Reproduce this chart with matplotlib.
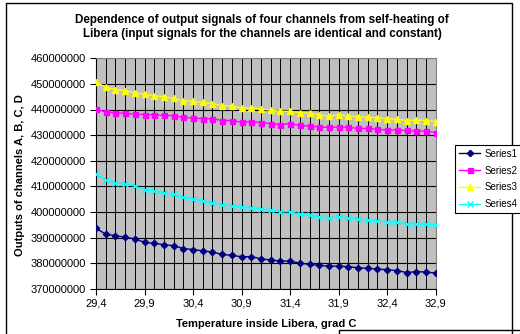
import matplotlib
matplotlib.use("Agg")
import matplotlib.pyplot as plt
import matplotlib.ticker as ticker
import numpy as np

plt.rcParams['font.family'] = ['Liberation Sans', 'DejaVu Sans']

# Temperature categories (grad C)
temps = [29.4, 29.5, 29.6, 29.7, 29.8, 29.9, 30.0, 30.1, 30.2, 30.3, 30.4, 30.5,
         30.6, 30.7, 30.8, 30.9, 31.0, 31.1, 31.2, 31.3, 31.4, 31.5, 31.6, 31.7,
         31.8, 31.9, 32.0, 32.1, 32.2, 32.3, 32.4, 32.5, 32.6, 32.7, 32.8, 32.9]

# Channel outputs, millions
series1 = [393.6, 391.3, 390.7, 390.1, 389.5, 388.1, 387.7, 387.2, 386.8, 385.7, 385.3, 384.8,
           384.3, 383.4, 383.0, 382.5, 382.5, 381.7, 381.2, 380.8, 380.8, 380.0, 379.5, 379.1,
           378.8, 378.8, 378.6, 378.2, 377.9, 377.7, 377.4, 377.1, 376.3, 376.7, 376.5, 376.1]
series2 = [440.1, 439.1, 438.7, 438.5, 438.2, 438.0, 438.0, 437.7, 437.6, 436.9, 436.7, 436.4,
           436.4, 435.7, 435.7, 435.0, 435.3, 434.9, 434.5, 434.1, 434.5, 433.8, 433.5, 433.2,
           433.0, 433.2, 433.0, 432.6, 432.6, 432.3, 432.0, 432.0, 431.8, 431.6, 431.6, 431.0]
series3 = [450.7, 448.7, 447.8, 447.4, 446.5, 445.9, 445.4, 445.0, 444.3, 443.5, 443.2, 442.8,
           442.3, 441.5, 441.4, 440.5, 440.7, 440.2, 439.7, 439.3, 439.3, 438.8, 438.5, 438.0,
           437.3, 438.0, 437.4, 437.2, 437.0, 436.8, 436.4, 436.2, 435.7, 435.9, 435.7, 435.3]
series4 = [414.9, 412.4, 411.4, 410.8, 410.1, 408.6, 408.2, 407.3, 406.8, 405.7, 405.1, 404.3,
           403.6, 402.8, 402.4, 401.8, 401.7, 401.2, 400.7, 400.0, 400.1, 399.0, 398.7, 398.1,
           397.6, 398.2, 397.7, 397.2, 396.8, 396.4, 396.2, 395.9, 395.3, 395.4, 395.1, 395.0]

W, H = 520, 334
fig = plt.figure(figsize=(W / 100, H / 100), dpi=100)

# plot area in pixels
x0, x1, y0, y1 = 96, 435.7, 58.3, 288.7
ax = fig.add_axes([x0 / W, 1 - y1 / H, (x1 - x0) / W, (y1 - y0) / H])
ax.set_facecolor('#C0C0C0')

idx = np.arange(len(temps))
styles = [
    (series1, '#000080', 'D', 3.2, 'Series1'),
    (series2, '#FF00FF', 's', 3.6, 'Series2'),
    (series3, '#FFFF00', '^', 4.2, 'Series3'),
    (series4, '#00FFFF', 'x', 4.0, 'Series4'),
]
for vals, col, mk, ms, lab in styles:
    ax.plot(idx, np.array(vals) * 1e6, color=col, marker=mk, markersize=ms,
            linewidth=1.0, markeredgewidth=1.0, label=lab, zorder=3)

ax.set_xlim(0, len(temps) - 1)
ax.set_ylim(370e6, 460e6)

# vertical gridlines at every category
for i in idx:
    ax.axvline(i, color='black', linewidth=0.7, zorder=1)
ax.yaxis.set_major_locator(ticker.MultipleLocator(10e6))
ax.yaxis.set_major_formatter(ticker.FuncFormatter(lambda v, p: f"{int(round(v))}"))
ax.grid(axis='y', color='black', linewidth=0.8, zorder=1)
ax.set_axisbelow(True)

lab_idx = idx[::5]
ax.set_xticks(lab_idx)
ax.set_xticklabels([f"{temps[i]:.1f}".replace('.', ',') for i in lab_idx])
ax.tick_params(axis='both', direction='out', length=4, width=0.8, labelsize=8, colors='black')
ax.tick_params(axis='x', pad=3)

for s in ['left', 'bottom']:
    ax.spines[s].set_color('black')
    ax.spines[s].set_linewidth(0.8)
for s in ['top', 'right']:
    ax.spines[s].set_color('#808080')
    ax.spines[s].set_linewidth(0.8)

fig.text(262 / W, 1 - 27 / H,
         "Dependence of output signals of four channels from self-heating of\n"
         "Libera (input signals for the channels are identical and constant)",
         ha='center', va='center', fontsize=8.4, fontweight='bold', linespacing=1.2)
fig.text(20 / W, 1 - 175 / H, "Outputs of channels A, B, C, D", rotation=90,
         ha='center', va='center', fontsize=8, fontweight='bold')
fig.text(266 / W, 1 - 324 / H, "Temperature inside Libera, grad C",
         ha='center', va='center', fontsize=8, fontweight='bold')

leg = fig.legend(loc='upper left', bbox_to_anchor=(455 / W, 1 - 145 / H), fontsize=7,
                 frameon=True, fancybox=False, framealpha=1, edgecolor='black',
                 borderpad=0.4, labelspacing=0.7, handlelength=2.2, handletextpad=0.4,
                 borderaxespad=0)
leg.get_frame().set_linewidth(0.8)

# outer chart border
fig.add_artist(plt.Line2D([6 / W, 6 / W, 512 / W, 512 / W], [0, 1 - 3 / H, 1 - 3 / H, 0],
                          transform=fig.transFigure, color='black', linewidth=1.0))
fig.add_artist(plt.Line2D([339 / W, 339 / W, 1], [0, 1 - 330 / H, 1 - 330 / H],
                          transform=fig.transFigure, color='black', linewidth=1.0))

fig.savefig('out.png', dpi=100, facecolor='white')
